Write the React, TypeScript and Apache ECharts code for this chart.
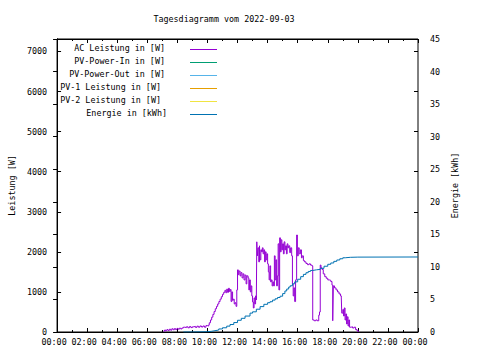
import React, { useEffect, useRef } from 'react';
import * as echarts from 'echarts';

const FONT = '"DejaVu Sans Mono", "Liberation Mono", monospace';
const FS = 8.4;

const titleText = 'Tagesdiagramm vom 2022-09-03';
const leftAxisName = 'Leistung [W]';
const rightAxisName = 'Energie [kWh]';

const seriesNames = [
  'AC Leistung in [W]',
  'PV-Power-In in [W]',
  'PV-Power-Out in [W]',
  'PV-1 Leistung in [W]',
  'PV-2 Leistung in [W]',
  'Energie in [kWh]',
];
const seriesColors = ['#9400d3', '#009e73', '#56b4e9', '#e69f00', '#f0e442', '#0072b2'];

// AC Leistung (hours of day, watts)
const acHours = [
  7.07, 7.15, 7.22, 7.3, 7.38, 7.47, 7.55, 7.63, 7.72, 7.8, 7.88, 7.97, 8.05, 8.13, 8.22, 8.3, 8.4, 8.5, 8.6, 8.7,
  8.8, 8.9, 9.0, 9.1, 9.2, 9.3, 9.4, 9.5, 9.6, 9.7, 9.8, 9.9, 10.0, 10.06,
  10.12, 10.2, 10.28, 10.36, 10.44, 10.52, 10.6, 10.68, 10.76, 10.84, 10.92, 11.0, 11.08, 11.16, 11.22, 11.28,
  11.34, 11.4, 11.46, 11.52, 11.57, 11.62, 11.67, 11.72, 11.78, 11.84, 11.9, 11.95,
  12.0, 12.05, 12.1, 12.17, 12.23, 12.3, 12.37, 12.43, 12.5, 12.57, 12.62, 12.7, 12.75, 12.8, 12.85, 12.9, 12.95,
  13.0, 13.05, 13.1, 13.15, 13.2, 13.25,
  13.28, 13.32, 13.36, 13.41, 13.46, 13.5, 13.55, 13.6, 13.65, 13.7, 13.75, 13.8, 13.85, 13.9, 13.95, 14.0, 14.05,
  14.1, 14.15, 14.2, 14.25, 14.3, 14.35, 14.4, 14.45, 14.5, 14.55, 14.6, 14.65, 14.7, 14.75, 14.8,
  14.85, 14.9, 14.95, 15.0, 15.05, 15.1, 15.15, 15.2, 15.25, 15.3, 15.35, 15.4, 15.47, 15.53, 15.6, 15.65, 15.7,
  15.75, 15.8, 15.86, 15.93, 15.98, 16.04, 16.1, 16.18, 16.25, 16.3, 16.38, 16.45, 16.55, 16.65, 16.75, 16.85, 16.95,
  17.0, 17.1, 17.2, 17.3, 17.4, 17.45, 17.5, 17.55, 17.62, 17.7, 17.8, 17.9, 18.0, 18.1, 18.2, 18.28, 18.33, 18.37,
  18.45, 18.55, 18.65, 18.75, 18.85, 18.9, 18.93, 19.0, 19.05, 19.1, 19.15, 19.2, 19.25, 19.3, 19.35, 19.4, 19.45,
  19.55, 19.65, 19.75, 19.85, 19.95, 20.03,
];
const acWatts = [
  20, 50, 30, 60, 40, 70, 45, 80, 55, 85, 60, 90, 70, 95, 75, 100, 120, 110, 130, 105,
  135, 110, 130, 140, 115, 145, 120, 150, 125, 150, 120, 160, 145, 170,
  230, 300, 370, 440, 510, 580, 640, 700, 760, 820, 880, 940, 990, 1040, 980, 1070,
  990, 1090, 1010, 1060, 760, 1000, 790, 820, 700, 730, 640, 1050,
  1550, 1430, 1520, 1400, 1480, 1350, 1450, 1300, 1420, 1200, 1400, 1350, 1050, 1300, 1000, 1150, 900,
  750, 600, 850, 700, 900, 800,
  2250, 1900, 2100, 1750, 2150, 1800, 2050, 2000, 2100, 1950, 2050, 1750, 2000, 1800, 1950, 1700, 1500,
  1300, 1650, 1250, 1300, 1150, 1250, 1150, 1900, 1300, 1800, 1150, 1400, 2200, 1050, 2350,
  2000, 2300, 2050, 2200, 1950, 2250, 2050, 2150, 1950, 2200, 2100, 2150, 1980, 2100, 1900, 1200, 900,
  1100, 760, 1300, 2420, 1900, 2100, 1950, 2050, 1850, 1900, 1780, 1750, 1710, 1680, 1700, 1670, 1650,
  300, 280, 300, 280, 420, 500, 1670, 1600, 1560, 1450, 1380, 1340, 1300, 1290, 1260, 1170, 280, 1150,
  1100, 1050, 1000, 950, 900, 850, 470, 560, 400, 600, 300, 450, 200, 380, 150, 300, 120,
  130, 100, 120, 60, 30, 0,
];

// Energie (hours of day, kWh)
const energyHours = [
  8.4, 9.0, 9.5, 10.0, 10.25, 10.5, 10.75, 11.0, 11.28, 11.5, 11.75, 12.0, 12.25, 12.5, 12.83, 13.0, 13.25, 13.5,
  13.75, 14.0, 14.16, 14.33, 14.5, 14.66, 14.83, 15.0, 15.15, 15.27, 15.4, 15.5, 15.65, 15.8, 16.0, 16.2, 16.38,
  16.55, 16.7, 16.85, 17.0, 17.25, 17.5, 17.75, 18.0, 18.2, 18.4, 18.6, 18.8, 19.0, 19.16, 19.5, 20.0, 24.0,
];
const energyKWh = [
  0, 0.02, 0.05, 0.1, 0.2, 0.3, 0.47, 0.65, 0.9, 1.15, 1.45, 1.8, 2.1, 2.45, 2.9, 3.1, 3.5, 3.9,
  4.25, 4.5, 4.65, 4.9, 5.1, 5.3, 5.5, 5.9, 6.3, 6.6, 6.9, 7.1, 7.4, 7.7, 8.1, 8.5, 8.85,
  9.1, 9.3, 9.45, 9.55, 9.62, 9.78, 10.1, 10.4, 10.6, 10.85, 11.06, 11.25, 11.4, 11.47, 11.5, 11.52, 11.52,
];

const emptySeries: number[][] = [];

const pad2 = (n: number) => String(n).padStart(2, '0');

export default function App() {
  const ref = useRef<HTMLDivElement>(null);
  useEffect(() => {
    const chart = echarts.init(ref.current!, null, { renderer: 'svg' });
    const textStyle = { fontFamily: FONT, fontSize: FS, color: '#000' };
    const tick = { show: true, inside: true, length: 4, lineStyle: { color: '#000', width: 1 } };
    const xCommon = {
      type: 'value' as const,
      min: 0,
      max: 24,
      interval: 2,
      splitLine: { show: false },
      axisLine: { show: true, onZero: false, lineStyle: { color: '#000', width: 1 } },
      axisTick: tick,
      minorTick: { show: true, splitNumber: 2, length: 2, lineStyle: { color: '#000', width: 1 } },
    };
    const legendGraphics: any[] = [];
    const legendRight = [165, 165, 165, 161, 161, 167];
    seriesNames.forEach((name, i) => {
      const y = 49 + i * 13;
      legendGraphics.push({
        type: 'text',
        x: legendRight[i],
        y: y - 1,
        style: {
          text: name,
          fill: '#000',
          fontFamily: FONT,
          fontSize: FS,
          textAlign: 'right',
          textVerticalAlign: 'middle',
        },
      });
      legendGraphics.push({
        type: 'line',
        shape: { x1: 190, y1: y + 0.5, x2: 217, y2: y + 0.5 },
        style: { stroke: seriesColors[i], lineWidth: 1 },
      });
    });

    const dataSets: number[][][] = [
      acHours.map((h, i) => [h, acWatts[i]]),
      emptySeries,
      emptySeries,
      emptySeries,
      emptySeries,
      energyHours.map((h, i) => [h, energyKWh[i]]),
    ];

    chart.setOption({
      animation: false,
      backgroundColor: '#fff',
      textStyle: { fontFamily: FONT },
      grid: {
        left: 57,
        right: 62,
        top: 39,
        bottom: 28,
        show: true,
        borderColor: '#000',
        borderWidth: 1,
        backgroundColor: 'transparent',
      },
      xAxis: [
        {
          ...xCommon,
          position: 'bottom',
          axisLabel: {
            ...textStyle,
            margin: 6,
            padding: [0, 6, 0, 0],
            formatter: (v: number) => pad2(v % 24) + ':00',
          },
        },
        {
          ...xCommon,
          position: 'top',
          axisLabel: { show: false },
        },
      ],
      yAxis: [
        {
          type: 'value',
          position: 'left',
          min: 0,
          max: 7310,
          interval: 1000,
          splitLine: { show: false },
          axisLine: { show: true, lineStyle: { color: '#000', width: 1 } },
          axisTick: tick,
          axisLabel: {
            ...textStyle,
            margin: 10,
            showMaxLabel: false,
            formatter: (v: number) => (v % 1000 === 0 ? String(v) : ''),
          },
          name: leftAxisName,
          nameLocation: 'middle',
          nameGap: 41,
          nameRotate: 90,
          nameTextStyle: textStyle,
        },
        {
          type: 'value',
          position: 'right',
          min: 0,
          max: 45,
          interval: 5,
          splitLine: { show: false },
          axisLine: { show: true, lineStyle: { color: '#000', width: 1 } },
          axisTick: tick,
          axisLabel: { ...textStyle, margin: 12 },
          name: rightAxisName,
          nameLocation: 'middle',
          nameGap: 29,
          nameRotate: 90,
          nameTextStyle: textStyle,
        },
        {
          type: 'value',
          position: 'right',
          min: 0,
          max: 7310,
          interval: 1000,
          splitLine: { show: false },
          axisLine: { show: false },
          axisTick: tick,
          axisLabel: { show: false },
        },
      ],
      graphic: [
        {
          type: 'text',
          x: 224,
          y: 19,
          style: {
            text: titleText,
            fill: '#000',
            fontFamily: FONT,
            fontSize: FS,
            textAlign: 'center',
            textVerticalAlign: 'middle',
          },
        },
        ...legendGraphics,
      ],
      series: seriesNames.map((name, i) => ({
        name,
        type: 'line',
        xAxisIndex: 0,
        yAxisIndex: i === 5 ? 1 : 0,
        step: 'end',
        showSymbol: false,
        symbol: 'none',
        data: dataSets[i],
        lineStyle: { color: seriesColors[i], width: 1 },
        itemStyle: { color: seriesColors[i] },
        z: i === 5 ? 3 : 2,
      })),
    });
    return () => chart.dispose();
  }, []);
  return (
    <div
      ref={ref}
      style={{ position: 'fixed', left: 0, top: 0, width: 480, height: 360, background: '#fff' }}
    />
  );
}
